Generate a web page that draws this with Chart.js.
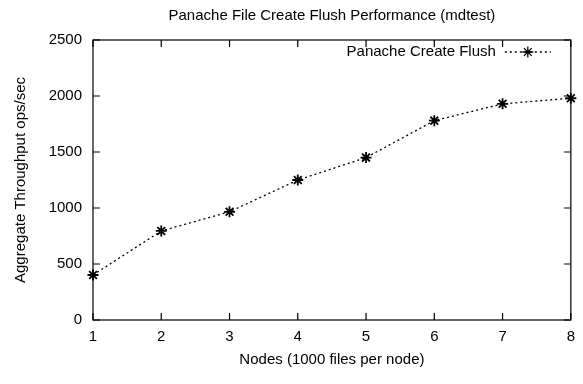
<!DOCTYPE html>
<html>
<head>
<meta charset="utf-8">
<script src="https://cdn.jsdelivr.net/npm/chart.js@4"></script>
<style>
  html, body { margin: 0; padding: 0; background: #fff; }
  #wrap { width: 583px; height: 384px; }
</style>
</head>
<body>
<div id="wrap"><canvas id="chartFlush"></canvas></div>
<script>
var nodes = [1, 2, 3, 4, 5, 6, 7, 8];
var createFlush = [402, 795, 966, 1250, 1450, 1780, 1930, 1980];
var yTicks = [0, 500, 1000, 1500, 2000, 2500];

var chartTitle = 'Panache File Create Flush Performance (mdtest)';
var seriesName = 'Panache Create Flush';
var fontFamily = '"Liberation Sans", Arial, Helvetica, sans-serif';
var fontSize = 15;

// gnuplot look: box frame, inward ticks on all four sides, title and key drawn by hand
var gnuplotLook = {
    id: 'gnuplotLook',
    afterDraw: function (chart) {
        var ctx = chart.ctx;
        var area = chart.chartArea;
        var xs = chart.scales.x, ys = chart.scales.y;
        var tl = 7;
        ctx.save();
        ctx.strokeStyle = '#000';
        ctx.lineWidth = 1.2;
        ctx.strokeRect(area.left, area.top, area.right - area.left, area.bottom - area.top);
        ctx.beginPath();
        nodes.forEach(function (n) {
            var px = xs.getPixelForValue(n);
            ctx.moveTo(px, area.bottom); ctx.lineTo(px, area.bottom - tl);
            ctx.moveTo(px, area.top); ctx.lineTo(px, area.top + tl);
        });
        yTicks.forEach(function (v) {
            var py = ys.getPixelForValue(v);
            ctx.moveTo(area.left, py); ctx.lineTo(area.left + tl, py);
            ctx.moveTo(area.right, py); ctx.lineTo(area.right - tl, py);
        });
        ctx.stroke();

        ctx.fillStyle = '#000';
        ctx.font = fontSize + 'px ' + fontFamily;
        ctx.textBaseline = 'middle';
        ctx.textAlign = 'center';
        ctx.fillText(chartTitle, (area.left + area.right) / 2, 16);

        // key, top right inside the box
        var ky = area.top + 12;
        ctx.textAlign = 'right';
        ctx.fillText(seriesName, area.right - 75, ky);
        var ds = chart.data.datasets[0];
        ctx.beginPath();
        ctx.setLineDash(ds.borderDash);
        ctx.lineWidth = ds.borderWidth;
        ctx.moveTo(area.right - 66, ky);
        ctx.lineTo(area.right - 20, ky);
        ctx.stroke();
        ctx.setLineDash([]);
        Chart.helpers.drawPoint(ctx, {
            pointStyle: 'star', radius: ds.pointRadius, borderWidth: ds.pointBorderWidth
        }, area.right - 43, ky);
        ctx.restore();
    }
};

var ctx = document.getElementById('chartFlush').getContext('2d');
var myChart = new Chart(ctx, {
    type: 'line',
    data: {
        labels: nodes,
        datasets: [{
            label: seriesName,
            data: nodes.map(function (n, i) { return { x: n, y: createFlush[i] }; }),
            borderColor: '#000',
            backgroundColor: '#000',
            borderWidth: 1.3,
            borderDash: [2, 3],
            pointStyle: 'star',
            pointRadius: 5.5,
            pointBorderWidth: 1.8,
            pointBorderColor: '#000',
            tension: 0,
            fill: false,
            clip: false
        }]
    },
    options: {
        responsive: true,
        maintainAspectRatio: false,
        animation: false,
        layout: { padding: { top: 40, right: 9, left: 0, bottom: 0 } },
        plugins: {
            legend: { display: false },
            title: { display: false },
            tooltip: { enabled: false }
        },
        scales: {
            x: {
                type: 'linear',
                min: 1,
                max: 8,
                afterFit: function (s) { s.height = 64; },
                grid: { display: false, drawTicks: false },
                border: { display: false },
                ticks: {
                    stepSize: 1,
                    padding: 8,
                    color: '#000',
                    font: { family: fontFamily, size: fontSize }
                },
                title: {
                    display: true,
                    text: 'Nodes (1000 files per node)',
                    color: '#000',
                    font: { family: fontFamily, size: fontSize },
                    padding: { top: 0, bottom: 15 }
                }
            },
            y: {
                min: 0,
                max: 2500,
                afterFit: function (s) { s.width = 93; },
                grid: { display: false, drawTicks: false },
                border: { display: false },
                ticks: {
                    stepSize: 500,
                    padding: 11,
                    color: '#000',
                    font: { family: fontFamily, size: fontSize },
                    callback: function (v) { return String(v); }
                },
                title: {
                    display: true,
                    text: 'Aggregate Throughput ops/sec',
                    color: '#000',
                    font: { family: fontFamily, size: fontSize },
                    padding: { top: 12, bottom: 0 }
                }
            }
        }
    },
    plugins: [gnuplotLook]
});
</script>
</body>
</html>
